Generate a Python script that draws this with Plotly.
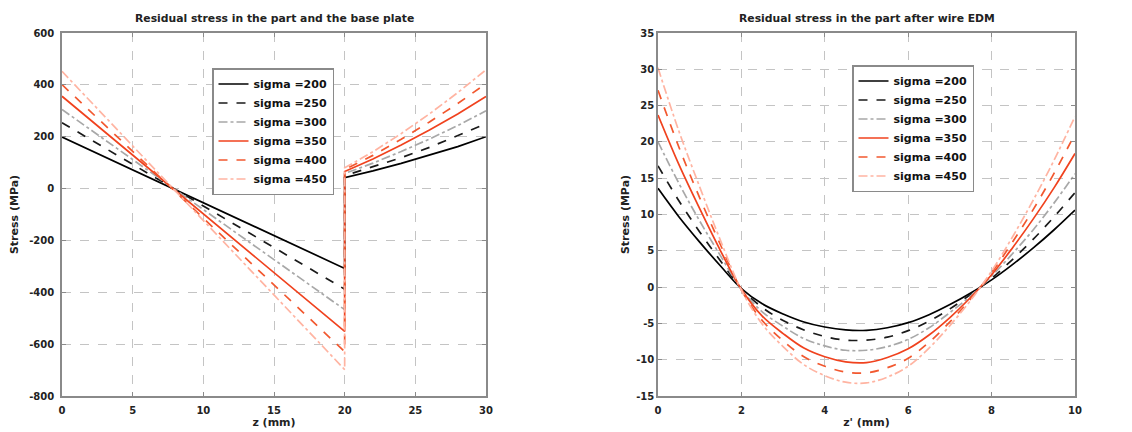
import plotly.graph_objects as go

sigmas = [200, 250, 300, 350, 400, 450]
names = ["sigma =200", "sigma =250", "sigma =300", "sigma =350", "sigma =400", "sigma =450"]
colors = ["#000000", "#1a1a1a", "#a8a8a8", "#f0421e", "#f2582f", "#ffb4a2"]
dashes = ["solid", "dash", "dashdot", "solid", "dash", "dashdot"]

# Left panel: part (z 0..20, linear) and base plate (z 20..30)
z_part = [0, 20]
part_vals = [
    [199, -308],
    [254, -388],
    [305, -467],
    [356, -551],
    [401, -629],
    [452, -698],
]
z_plate = [20, 22, 24, 26, 28, 30]
plate_vals = [
    [42, 68, 97, 128, 162, 200],
    [50, 83, 119, 159, 203, 250],
    [58, 98, 143, 191, 243, 300],
    [66, 114, 168, 226, 288, 355],
    [73, 128, 190, 257, 328, 405],
    [80, 142, 212, 288, 370, 458],
]

# Right panel: part after wire EDM
zp = [0, 0.5, 1, 1.5, 2, 2.5, 3, 3.5, 4, 4.5, 5, 5.5, 6, 6.5, 7, 7.5, 8, 8.5, 9, 9.5, 10]
edm_vals = [
    [13.6, 9.7, 6.2, 2.9, -0.2, -2.3, -3.7, -4.8, -5.5, -5.9, -5.95, -5.6, -4.9, -3.8, -2.4, -0.8, 1.0, 3.1, 5.4, 7.9, 10.6],
    [16.7, 11.9, 7.6, 3.6, -0.2, -2.8, -4.6, -5.9, -6.8, -7.3, -7.3, -6.9, -6.0, -4.7, -3.0, -1.0, 1.2, 3.8, 6.6, 9.7, 13.0],
    [20.0, 14.3, 9.1, 4.3, -0.3, -3.4, -5.4, -7.1, -8.1, -8.7, -8.7, -8.2, -7.2, -5.6, -3.5, -1.2, 1.5, 4.6, 7.9, 11.6, 15.6],
    [23.7, 16.9, 10.8, 5.0, -0.3, -4.0, -6.4, -8.4, -9.6, -10.3, -10.4, -9.7, -8.5, -6.6, -4.2, -1.4, 1.7, 5.4, 9.4, 13.7, 18.4],
    [27.1, 19.3, 12.3, 5.8, -0.4, -4.6, -7.4, -9.6, -10.9, -11.7, -11.8, -11.1, -9.8, -7.6, -4.8, -1.6, 2.0, 6.2, 10.7, 15.7, 21.1],
    [30.2, 21.5, 13.8, 6.4, -0.4, -5.1, -8.2, -10.7, -12.2, -13.1, -13.2, -12.4, -10.9, -8.4, -5.3, -1.8, 2.2, 6.9, 12.0, 17.5, 23.5],
]

left_xticks = [0, 5, 10, 15, 20, 25, 30]
left_yticks = [-800, -600, -400, -200, 0, 200, 400, 600]
right_xticks = [0, 2, 4, 6, 8, 10]
right_yticks = [-15, -10, -5, 0, 5, 10, 15, 20, 25, 30, 35]

left_title = "Residual stress in the part and the base plate"
right_title = "Residual stress in the part after wire EDM"
left_xlabel = "z (mm)"
right_xlabel = "z' (mm)"
ylabel = "Stress (MPa)"

fig = go.Figure()
for i in range(len(sigmas)):
    xs = z_part + z_plate
    ys = part_vals[i] + plate_vals[i]
    fig.add_trace(go.Scatter(
        x=xs, y=ys, mode="lines", name=names[i],
        line=dict(color=colors[i], dash=dashes[i], width=1.7),
        xaxis="x", yaxis="y", legend="legend", showlegend=True))
for i in range(len(sigmas)):
    fig.add_trace(go.Scatter(
        x=zp, y=edm_vals[i], mode="lines", name=names[i],
        line=dict(color=colors[i], dash=dashes[i], width=1.7, shape="spline"),
        xaxis="x2", yaxis="y2", legend="legend2", showlegend=True))

# page has an 8px body margin: work in screenshot pixels and convert
OFF = 8
W, H = 1132 - OFF, 432 - OFF


def px(x):
    return (x - OFF) / W


def py(y):
    return 1 - (y - OFF) / H


FAM = "DejaVu Sans, Verdana, sans-serif"
tickfont = dict(family=FAM, size=10, color="#222", weight="bold")
titlefont = dict(family=FAM, size=11, color="#222", weight="bold")
headfont = dict(family=FAM, size=10.8, color="#222", weight="bold")
legfont = dict(family=FAM, size=11, color="#111", weight="bold")
axis_common = dict(
    showline=True, linecolor="#8a8a8a", linewidth=1.5, mirror="ticks",
    ticks="inside", ticklen=4, tickcolor="#8a8a8a",
    showgrid=True, gridcolor="#c4c4c4", griddash="dash", gridwidth=1,
    zeroline=False, tickfont=tickfont, automargin=False, tickmode="array",
)


def labels(vals):
    return [str(v) for v in vals]


fig.update_layout(
    width=W, height=H,
    margin=dict(l=0, r=0, t=0, b=0, autoexpand=False),
    paper_bgcolor="white", plot_bgcolor="white",
    xaxis=dict(domain=[px(62), px(486)], range=[0, 30], tickvals=left_xticks, ticktext=labels(left_xticks),
               anchor="y", ticklabelstandoff=4,
               title=dict(text=left_xlabel, font=titlefont, standoff=4), **axis_common),
    yaxis=dict(domain=[py(396), py(33)], range=[-800, 600], tickvals=left_yticks, ticktext=labels(left_yticks),
               anchor="x", ticklabelstandoff=4,
               title=dict(text=ylabel, font=titlefont, standoff=10), **axis_common),
    xaxis2=dict(domain=[px(658), px(1075)], range=[0, 10], tickvals=right_xticks, ticktext=labels(right_xticks),
                anchor="y2", ticklabelstandoff=4,
                title=dict(text=right_xlabel, font=titlefont, standoff=4), **axis_common),
    yaxis2=dict(domain=[py(396), py(33)], range=[-15, 35], tickvals=right_yticks, ticktext=labels(right_yticks),
                anchor="x2",
                title=dict(text=ylabel, font=titlefont, standoff=4), **axis_common),
    legend=dict(x=px(212), y=py(68), xanchor="left", yanchor="top",
                bgcolor="white", bordercolor="#8a8a8a", borderwidth=1.5,
                font=legfont, tracegroupgap=0, itemwidth=30),
    legend2=dict(x=px(852), y=py(65), xanchor="left", yanchor="top",
                 bgcolor="white", bordercolor="#8a8a8a", borderwidth=1.5,
                 font=legfont, tracegroupgap=0, itemwidth=30),
    annotations=[
        dict(text=left_title, x=px((62 + 486) / 2), y=py(18), xref="paper", yref="paper",
             showarrow=False, font=headfont, xanchor="center", yanchor="middle"),
        dict(text=right_title, x=px((658 + 1075) / 2), y=py(18), xref="paper", yref="paper",
             showarrow=False, font=headfont, xanchor="center", yanchor="middle"),
    ],
)

fig.write_html("out.html")
